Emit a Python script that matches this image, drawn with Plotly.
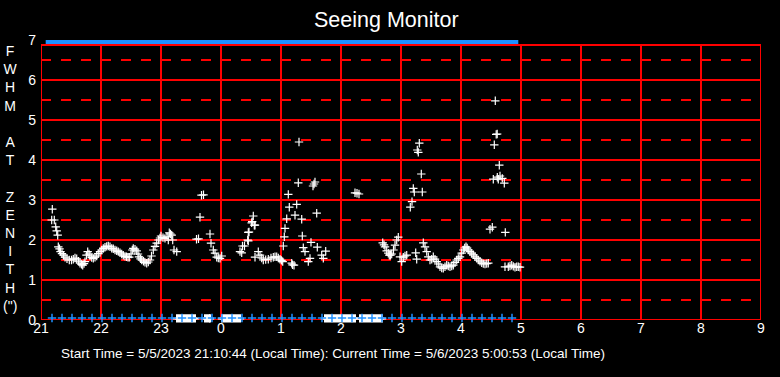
import plotly.graph_objects as go

# ---------------- data ----------------
title_text = "Seeing Monitor"
footer_text = "Start Time = 5/5/2023 21:10:44 (Local Time): Current Time = 5/6/2023 5:00:53 (Local Time)"

x_tick_values = [21, 22, 23, 24, 25, 26, 27, 28, 29, 30, 31, 32, 33]
x_tick_labels = ["21", "22", "23", "0", "1", "2", "3", "4", "5", "6", "7", "8", "9"]
y_tick_values = [0, 1, 2, 3, 4, 5, 6, 7]
y_tick_labels = ["0", "1", "2", "3", "4", "5", "6", "7"]
y_solid_lines = [0, 1, 2, 3, 4, 5, 6, 6.875]
y_dashed_lines = [0.5, 1.5, 2.5, 3.5, 4.5, 5.5, 6.5]
y_frame_top = 6.875
y_axis_letters = ["F", "W", "H", "M", "", "A", "T", "", "Z", "E", "N", "I", "T", "H", "(\")"]

# minutes after 21:00 local time, and FWHM at zenith (arcsec)
fwhm_minutes = [
    11.3, 10.7, 13.3, 14.7, 15.7, 16.7,
    17.3, 18.5, 19.5, 21, 22.5, 24, 26, 28.3, 30.5, 32.3, 34, 35.7, 37.5, 39, 40.5, 41.7, 43, 44,
    45.5, 46.7, 48, 49, 50.7, 52.3, 54, 55.7, 57.3, 59, 60.7, 62.3, 64, 65.7, 67.3, 69, 70.7, 72.3,
    74, 75.7, 77.3, 79, 80.7, 82.3, 84, 85.5, 87, 88.3, 90, 91.3, 92.3, 94, 95.7, 97, 98, 99.5,
    100.7, 102.5, 104, 105.7, 107.3, 109, 110.5, 112.3, 114, 115.7, 117.5, 119, 120, 122, 124, 126,
    128.3, 129.5, 130.7, 127.3, 131.7, 133, 135.7,
    155.5, 157.5, 159, 160.5, 162.5, 169, 170, 172.3, 174, 175.7, 177.3, 179, 180.7,
    199, 200.7, 201.5, 203.5, 206.7, 207.3, 207.3, 208, 210.7, 211.2, 212.3, 213.3, 214, 214,
    217.3, 219, 220.7, 222.3, 224.7, 227.3, 230, 232.3, 234, 235.7, 237.3, 239, 240.5, 241.7,
    242.3, 243.3, 244, 245.7, 247.3, 248.3, 250.7, 251.5, 253, 254, 255.7, 257.3, 258, 260.7,
    261.3, 262.3, 264, 267.3, 269, 270, 272, 273, 274, 275.7, 276.3, 280.7, 282.3, 284.7,
    314, 316, 318,
    341.7, 343, 344, 345.7, 347.3, 348.3, 349.5, 350.7, 352.5, 354, 355.7, 357.3, 359, 360.7,
    362.3, 364, 365.7, 369.3, 371, 372.3, 373.3, 374.7, 375.7, 376.3, 377.3, 378.3, 380.3, 381.3,
    382.3, 384, 385.7, 387.3, 389, 390.7, 392.3, 394, 395.7, 397.3, 399, 400.7, 402.3, 404, 405.7,
    407.3, 409, 410.7, 412.3, 414, 415.7, 417.3, 419, 420.7, 422.3, 423.7, 425, 426.2, 427.3, 429,
    430.7, 432.3, 434, 435.7, 437.3, 439, 440.7, 442.3, 444, 445.7, 447.3, 449, 451.3, 452.3,
    453.3, 454.3, 455.2, 456.2, 456.3, 457.3, 458.3, 459, 461.3, 463.3, 464.3, 464, 467.3, 469,
    470.7, 472.3, 474, 475.7, 477.3, 479,
]
fwhm_values = [
    2.77, 2.50, 2.50, 2.33, 2.23, 2.12,
    1.83, 1.78, 1.71, 1.66, 1.62, 1.57, 1.53, 1.50, 1.50, 1.52, 1.55, 1.53, 1.47, 1.42, 1.39, 1.37, 1.41, 1.46,
    1.62, 1.71, 1.65, 1.60, 1.56, 1.54, 1.57, 1.60, 1.66, 1.71, 1.75, 1.79, 1.82, 1.84, 1.85, 1.83, 1.79, 1.78,
    1.75, 1.73, 1.71, 1.68, 1.65, 1.62, 1.59, 1.58, 1.57, 1.57, 1.65, 1.75, 1.79, 1.77, 1.73, 1.65, 1.58, 1.53,
    1.50, 1.47, 1.44, 1.42, 1.45, 1.50, 1.60, 1.75, 1.84, 1.92, 2.00, 2.05, 2.10, 2.06, 2.04, 2.08,
    2.18, 2.15, 2.12, 2.00, 2.00, 1.75, 1.71,
    2.02, 2.03, 2.57, 3.12, 3.13, 2.15, 1.92, 1.75, 1.67, 1.57, 1.55, 1.54, 1.60,
    1.71, 1.68, 1.85, 1.85, 2.00, 1.98, 2.19, 2.20, 2.43, 2.46, 2.60, 2.37, 2.37, 1.57,
    1.71, 1.62, 1.55, 1.50, 1.51, 1.52, 1.55, 1.57, 1.58, 1.58, 1.55, 1.52, 1.49, 1.46,
    1.85, 2.08, 2.29, 2.53, 3.14, 2.82, 1.42, 1.38, 1.37, 2.62, 2.89, 3.43, 4.45, 2.52,
    2.10, 1.81, 1.71, 1.46, 1.54, 1.94, 3.35, 3.40, 3.45, 2.67, 1.82, 1.62, 1.54, 1.72,
    3.18, 3.17, 3.15,
    1.93, 1.88, 1.83, 1.73, 1.67, 1.62, 1.62, 1.65, 1.75, 1.87, 2.00, 2.07, 1.58, 1.46,
    1.57, 1.60, 1.62, 2.82, 2.96, 3.29, 3.20, 1.68, 1.52, 4.25, 4.19, 4.42, 3.65, 3.20,
    1.93, 1.83, 1.71, 1.58, 1.50, 1.52, 1.58, 1.52, 1.46, 1.40, 1.33, 1.30, 1.29, 1.33, 1.37,
    1.35, 1.33, 1.35, 1.37, 1.44, 1.50, 1.54, 1.58, 1.67, 1.75, 1.80, 1.83, 1.80, 1.75, 1.71,
    1.67, 1.63, 1.58, 1.54, 1.50, 1.47, 1.43, 1.41, 1.40, 1.41, 1.42, 2.27, 2.32, 3.52,
    4.38, 5.48, 4.64, 4.65, 3.57, 3.52, 3.87, 3.60, 3.54, 3.42, 2.19, 1.33, 1.33, 1.35,
    1.37, 1.34, 1.32, 1.33, 1.33, 1.32,
]

# minutes after 21:00 with failed measurements (plotted at zero)
zero_minutes = [
    136, 138, 140, 142, 144, 146, 148, 150, 152, 154,
    164, 166, 168, 169,
    181, 183, 185, 187, 189, 191, 193, 195, 197, 199,
    284, 286, 288, 290, 292, 294, 296, 298, 300, 302, 304, 306, 308, 310, 312, 314,
    319, 321, 323, 325, 327, 329, 331, 333, 335, 337, 339, 341,
]
zero_value = 0.04

# sampling marks (blue) every ten minutes, minutes after 21:00
sample_minutes = [
    11, 21, 31, 41, 51, 61, 71, 81, 91, 101, 111, 121, 131, 141, 151, 161,
    171, 181, 191, 201, 211, 221, 231, 241, 251, 261, 271, 281, 291, 301, 311, 321,
    331, 341, 351, 361, 371, 381, 391, 401, 411, 421, 431, 441, 451, 461, 471,
]
sample_low_value = 0.05
sample_high_value = 6.95

# ---------------- figure ----------------
def to_hours(mins):
    return [21 + m / 60.0 for m in mins]

RED = "#ff0000"
BLUE = "#1e90ff"
FONT = "Liberation Sans, Arial, sans-serif"

fig = go.Figure()

# grid drawn as shapes so that it stops at the frame top (6.875)
shapes = []
for xv in x_tick_values:
    shapes.append(dict(type="line", xref="x", yref="y", x0=xv, x1=xv, y0=0, y1=y_frame_top,
                       line=dict(color=RED, width=2), layer="below"))
for yv in y_solid_lines:
    shapes.append(dict(type="line", xref="x", yref="y", x0=21, x1=33, y0=yv, y1=yv,
                       line=dict(color=RED, width=2), layer="below"))
for yv in y_dashed_lines:
    shapes.append(dict(type="line", xref="x", yref="y", x0=21, x1=33, y0=yv, y1=yv,
                       line=dict(color=RED, width=2, dash="10px,10px"), layer="below"))

fig.add_trace(go.Scatter(
    x=to_hours(zero_minutes), y=[zero_value] * len(zero_minutes), mode="markers",
    marker=dict(symbol="cross-thin", size=6, line=dict(color="white", width=2)),
    hoverinfo="skip", showlegend=False, cliponaxis=False))

fig.add_trace(go.Scatter(
    x=to_hours(sample_minutes), y=[sample_low_value] * len(sample_minutes), mode="markers",
    marker=dict(symbol="cross-thin", size=6, line=dict(color=BLUE, width=1.5)),
    hoverinfo="skip", showlegend=False, cliponaxis=False))

fig.add_trace(go.Scatter(
    x=to_hours(sample_minutes), y=[sample_high_value] * len(sample_minutes), mode="markers",
    marker=dict(symbol="line-ew", size=9, line=dict(color=BLUE, width=4)),
    hoverinfo="skip", showlegend=False, cliponaxis=False))

fig.add_trace(go.Scatter(
    x=to_hours(fwhm_minutes), y=fwhm_values, mode="markers",
    marker=dict(symbol="cross-thin", size=6, line=dict(color="white", width=1.2)),
    showlegend=False, cliponaxis=False))

letters_text = "<br>".join(l if l else "\u00a0" for l in y_axis_letters)

fig.update_layout(
    width=780, height=377,
    paper_bgcolor="black", plot_bgcolor="black",
    margin=dict(l=41, r=19, t=40, b=57, autoexpand=False),
    font=dict(family=FONT, color="white", size=13),
    shapes=shapes,
    xaxis=dict(range=[21, 33], tickvals=x_tick_values, ticktext=x_tick_labels,
               showgrid=False, zeroline=False, showline=False, automargin=False,
               ticks="", ticklabelstandoff=-2, tickfont=dict(size=14, color="white")),
    yaxis=dict(range=[0, 7], tickvals=y_tick_values, ticktext=y_tick_labels,
               showgrid=False, zeroline=False, showline=False, automargin=False,
               ticks="", ticklabelstandoff=4, tickfont=dict(size=14, color="white")),
    annotations=[
        dict(text=title_text, xref="paper", yref="paper", x=(386.5 - 41) / 720,
             y=(320 - 20) / 280, xanchor="center", yanchor="middle", showarrow=False,
             font=dict(size=21.5, color="white")),
        dict(text=letters_text, xref="paper", yref="paper", x=-31 / 720,
             y=(320 - 178.7) / 280, xanchor="center", yanchor="middle", showarrow=False,
             align="center", font=dict(size=14, color="white")),
        dict(text=footer_text, xref="paper", yref="paper", x=18 / 720, y=-33 / 280,
             xanchor="left", yanchor="middle", showarrow=False,
             font=dict(size=13.5, color="white")),
    ],
)

fig.write_html("out.html", config={"displayModeBar": False},
               post_script="document.body.style.margin='0px';")
